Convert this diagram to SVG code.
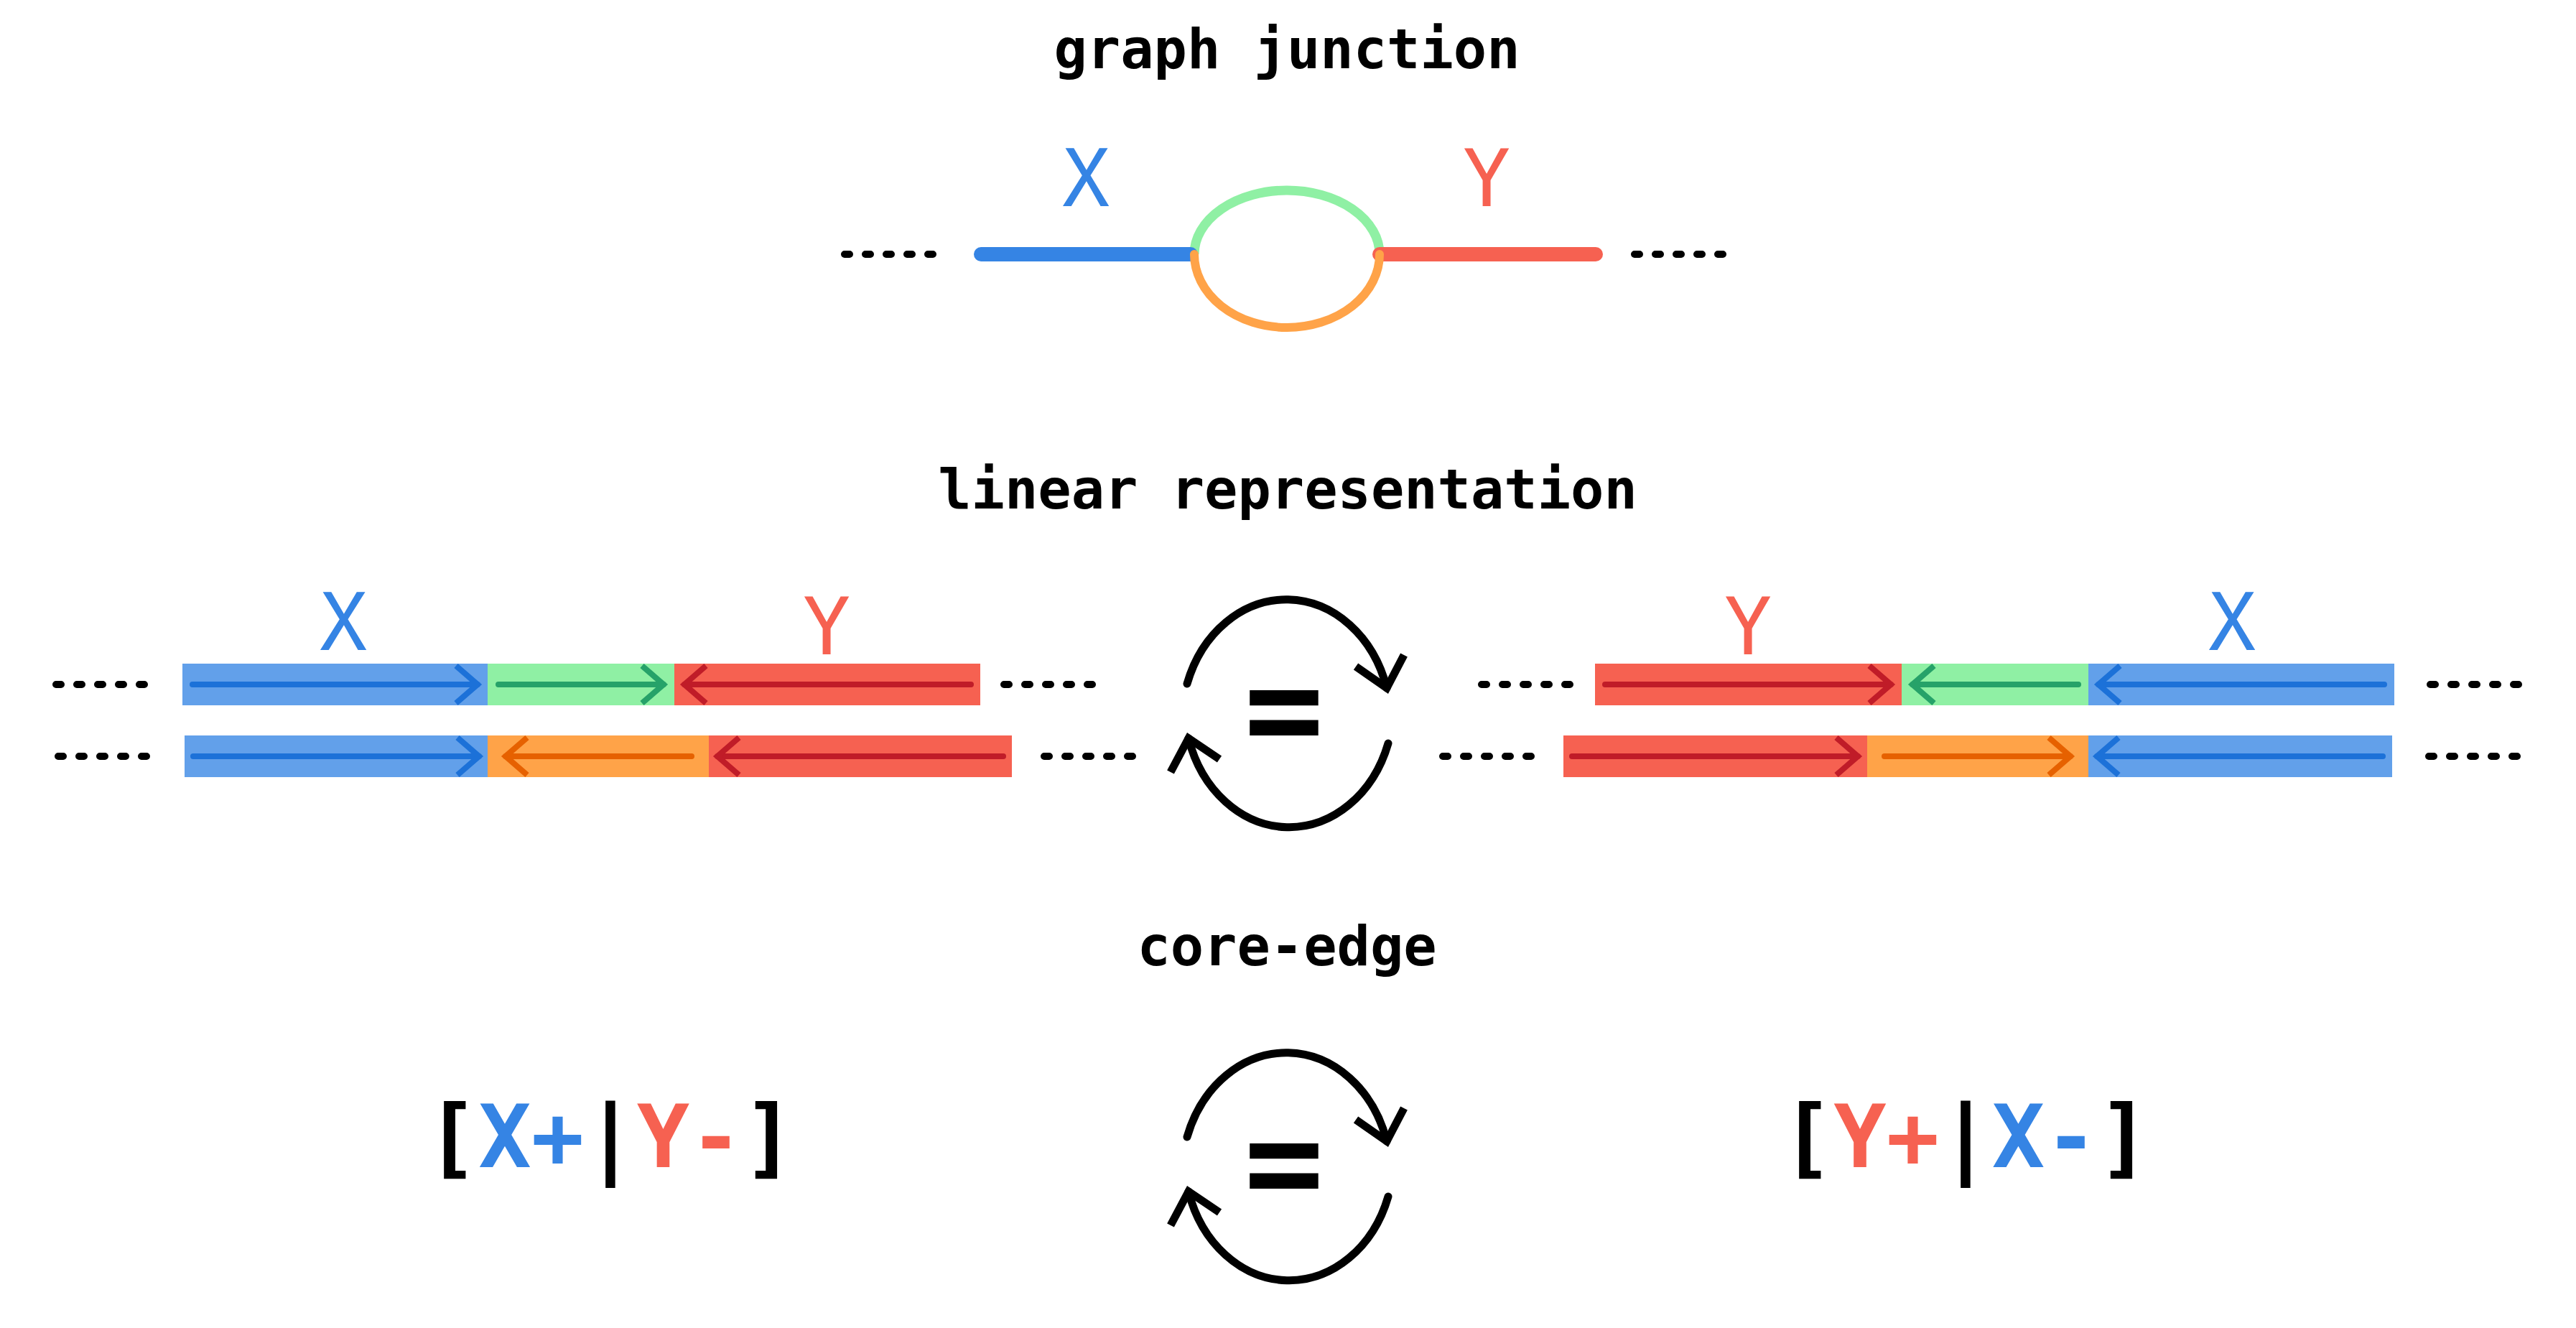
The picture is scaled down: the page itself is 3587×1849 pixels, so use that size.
<svg xmlns="http://www.w3.org/2000/svg" width="3587" height="1849" viewBox="0 0 3587 1849">
<style>
.title{font-family:"DejaVu Sans Mono","Liberation Mono",monospace;font-weight:bold;font-size:77px;fill:#000;text-anchor:middle}
.lbl{font-family:"DejaVu Sans Mono","Liberation Mono",monospace;font-size:110px;text-anchor:middle}
.ce{font-family:"DejaVu Sans Mono","Liberation Mono",monospace;font-weight:bold;font-size:122px;text-anchor:middle}
.eq{font-family:"DejaVu Sans Mono","Liberation Mono",monospace;font-weight:bold;font-size:185px;text-anchor:middle;fill:#000}
.blue{fill:#3584e4}.red{fill:#f66151}
.dots{stroke:#000;stroke-width:10;stroke-linecap:round;stroke-dasharray:7 22;fill:none}
.bb{fill:#62a0ea}.bg{fill:#8ff0a4}.br{fill:#f66151}.bo{fill:#ffa348}
.ar{fill:none;stroke-width:8;stroke-linecap:round}
.ab{stroke:#1c71d8;marker-end:url(#mb)}
.ag{stroke:#26a269;marker-end:url(#mg)}
.arr{stroke:#c01c28;marker-end:url(#mr)}
.ao{stroke:#e66100;marker-end:url(#mo)}
.rot{fill:none;stroke:#000;stroke-width:11}
</style>
<defs>
<marker id="mb" viewBox="-36 -32 44 64" refX="0" refY="0" markerWidth="44" markerHeight="64" markerUnits="userSpaceOnUse" orient="auto"><path d="M-30,-26 L0,0 L-30,26" fill="none" stroke="#1c71d8" stroke-width="8"/></marker>
<marker id="mg" viewBox="-36 -32 44 64" refX="0" refY="0" markerWidth="44" markerHeight="64" markerUnits="userSpaceOnUse" orient="auto"><path d="M-30,-26 L0,0 L-30,26" fill="none" stroke="#26a269" stroke-width="8"/></marker>
<marker id="mr" viewBox="-36 -32 44 64" refX="0" refY="0" markerWidth="44" markerHeight="64" markerUnits="userSpaceOnUse" orient="auto"><path d="M-30,-26 L0,0 L-30,26" fill="none" stroke="#c01c28" stroke-width="8"/></marker>
<marker id="mo" viewBox="-36 -32 44 64" refX="0" refY="0" markerWidth="44" markerHeight="64" markerUnits="userSpaceOnUse" orient="auto"><path d="M-30,-26 L0,0 L-30,26" fill="none" stroke="#e66100" stroke-width="8"/></marker>
<g id="rotsym">
<path class="rot" stroke-linecap="round" d="M1653,952 A146,173 0 0 1 1931,958"/>
<path class="rot" d="M1888,928 L1931,958 L1955,912"/>
<path class="rot" stroke-linecap="round" d="M1933,1035 A146,173 0 0 1 1655,1028"/>
<path class="rot" d="M1698,1057 L1655,1028 L1630,1075"/>
<text class="eq" x="1788" y="1051">=</text>
</g>
</defs>
<rect width="3587" height="1849" fill="#fff"/>

<g id="titles">
<text class="title" x="1792" y="95">graph junction</text>
<text class="title" x="1793" y="708">linear representation</text>
<text class="title" x="1792" y="1344">core-edge</text>
</g>

<g id="graph-junction">
<path class="dots" d="M1176,354 H1299"/>
<path class="dots" d="M2276,354 H2399"/>
<path d="M1663,354 A129,89 0 0 1 1921,354" fill="none" stroke="#8ff0a4" stroke-width="13"/>
<line x1="1366" y1="354" x2="1658" y2="354" stroke="#3584e4" stroke-width="20" stroke-linecap="round"/>
<line x1="1921" y1="354" x2="2222" y2="354" stroke="#f66151" stroke-width="20" stroke-linecap="round"/>
<path d="M1663,354 A129,102 0 0 0 1921,354" fill="none" stroke="#ffa348" stroke-width="12" stroke-linecap="round"/>
<text class="lbl blue" x="1512" y="287">X</text>
<text class="lbl red" x="2070" y="287">Y</text>
</g>

<g id="linear-left">
<text class="lbl blue" x="478" y="905">X</text>
<text class="lbl red" x="1151" y="911">Y</text>
<path class="dots" d="M78,953 H201"/>
<path class="dots" d="M1398,953 H1521"/>
<path class="dots" d="M81,1053 H204"/>
<path class="dots" d="M1454,1053 H1577"/>
<rect class="bb" x="254" y="924" width="425" height="58"/>
<rect class="bg" x="679" y="924" width="260" height="58"/>
<rect class="br" x="939" y="924" width="426" height="58"/>
<rect class="bb" x="257" y="1024" width="422" height="58"/>
<rect class="bo" x="679" y="1024" width="308" height="58"/>
<rect class="br" x="987" y="1024" width="422" height="58"/>
<g id="arrows-left">
<path class="ar ab" d="M268,953 H665"/>
<path class="ar ag" d="M694,953 H924"/>
<path class="ar arr" d="M1352,953 H953"/>
<path class="ar ab" d="M269,1053 H667"/>
<path class="ar ao" d="M963,1053 H704"/>
<path class="ar arr" d="M1397,1053 H999"/>
</g>
</g>

<g id="linear-right">
<text class="lbl red" x="2434" y="911">Y</text>
<text class="lbl blue" x="3108" y="905">X</text>
<path class="dots" d="M2063,953 H2186"/>
<path class="dots" d="M3384,953 H3507"/>
<path class="dots" d="M2009,1053 H2132"/>
<path class="dots" d="M3382,1053 H3505"/>
<rect class="br" x="2221" y="924" width="427" height="58"/>
<rect class="bg" x="2648" y="924" width="260" height="58"/>
<rect class="bb" x="2908" y="924" width="426" height="58"/>
<rect class="br" x="2177" y="1024" width="423" height="58"/>
<rect class="bo" x="2600" y="1024" width="308" height="58"/>
<rect class="bb" x="2908" y="1024" width="423" height="58"/>
<g id="arrows-right">
<path class="ar arr" d="M2235,953 H2633"/>
<path class="ar ag" d="M2894,953 H2663"/>
<path class="ar ab" d="M3320,953 H2922"/>
<path class="ar arr" d="M2189,1053 H2587"/>
<path class="ar ao" d="M2624,1053 H2883"/>
<path class="ar ab" d="M3318,1053 H2920"/>
</g>
</g>

<g id="equivalence-1"><use href="#rotsym"/></g>
<g id="equivalence-2"><use href="#rotsym" transform="translate(0,631)"/></g>

<g id="core-edge-left">
<text class="ce" x="850" y="1625">[<tspan class="blue">X+</tspan>|<tspan class="red">Y-</tspan>]</text>
</g>
<g id="core-edge-right">
<text class="ce" x="2737" y="1625">[<tspan class="red">Y+</tspan>|<tspan class="blue">X-</tspan>]</text>
</g>
</svg>
